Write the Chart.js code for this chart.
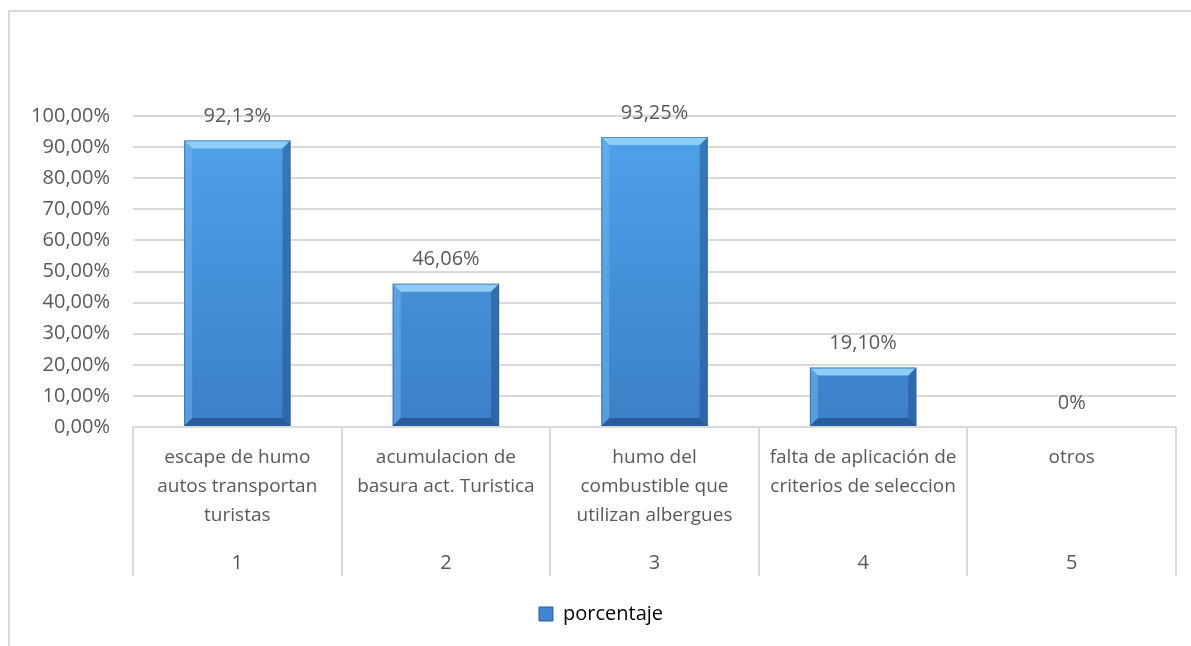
<!DOCTYPE html>
<html lang="es">
<head>
<meta charset="UTF-8">
<title>porcentaje</title>
<script src="https://cdn.jsdelivr.net/npm/chart.js"></script>
<style>
  html, body { margin: 0; padding: 0; background: #fff; }
  #wrap { width: 1191px; height: 646px; position: relative; }
</style>
</head>
<body>
<div id="wrap"><canvas id="grafico"></canvas></div>
<script>
// datos
const categorias = [
  ['escape de humo', 'autos transportan', 'turistas'],
  ['acumulacion de', 'basura act. Turistica'],
  ['humo del', 'combustible que', 'utilizan albergues'],
  ['falta de aplicación de', 'criterios de seleccion'],
  ['otros']
];
const numeros = ['1', '2', '3', '4', '5'];
const porcentaje = [92.13, 46.06, 93.25, 19.10, 0];
const yTicks = [0, 10, 20, 30, 40, 50, 60, 70, 80, 90, 100];

const gris = '#595959';
const fuente = "'Open Sans', sans-serif";

function fmt(v) {
  if (v === 0) return '0%';
  return v.toFixed(2).replace('.', ',') + '%';
}

// marco exterior (solo arriba e izquierda quedan visibles)
const marco = {
  id: 'marco',
  beforeDraw(chart) {
    const c = chart.ctx;
    c.save();
    c.strokeStyle = '#d9d9d9';
    c.lineWidth = 2;
    c.beginPath();
    c.moveTo(9, 646);
    c.lineTo(9, 11);
    c.lineTo(1191, 11);
    c.stroke();
    c.restore();
  }
};

// bisel de las barras, etiquetas y eje de dos niveles
const extras = {
  id: 'extras',
  afterDatasetsDraw(chart) {
    const c = chart.ctx;
    const meta = chart.getDatasetMeta(0);
    c.save();
    meta.data.forEach((bar, i) => {
      const p = bar.getProps(['x', 'y', 'base', 'width'], true);
      const l = p.x - p.width / 2, r = p.x + p.width / 2;
      const t = p.y, b = p.base;
      const h = b - t;
      if (h > 1) {
        const s = Math.min(8, h / 2);
        // arriba
        c.fillStyle = 'rgba(150,212,252,0.9)';
        c.beginPath();
        c.moveTo(l, t); c.lineTo(r, t); c.lineTo(r - s, t + s); c.lineTo(l + s, t + s);
        c.closePath(); c.fill();
        // izquierda
        c.fillStyle = 'rgba(110,180,240,0.55)';
        c.beginPath();
        c.moveTo(l, t); c.lineTo(l + s, t + s); c.lineTo(l + s, b - s); c.lineTo(l, b);
        c.closePath(); c.fill();
        // derecha
        c.fillStyle = 'rgba(30,80,140,0.5)';
        c.beginPath();
        c.moveTo(r, t); c.lineTo(r, b); c.lineTo(r - s, b - s); c.lineTo(r - s, t + s);
        c.closePath(); c.fill();
        // abajo
        c.fillStyle = 'rgba(25,70,125,0.6)';
        c.beginPath();
        c.moveTo(l, b); c.lineTo(r, b); c.lineTo(r - s, b - s); c.lineTo(l + s, b - s);
        c.closePath(); c.fill();
        c.strokeStyle = 'rgba(44,95,150,0.6)';
        c.lineWidth = 1;
        c.strokeRect(l + 0.5, t + 0.5, p.width - 1, h - 1);
      }
      // etiqueta de valor
      c.fillStyle = gris;
      c.font = '20px ' + fuente;
      c.textAlign = 'center';
      c.textBaseline = 'middle';
      c.fillText(fmt(porcentaje[i]), p.x, t - 24);
    });

    // separadores del eje de categorias
    const x = chart.scales.x;
    const area = chart.chartArea;
    const paso = (area.right - area.left) / categorias.length;
    c.strokeStyle = '#d9d9d9';
    c.lineWidth = 2;
    for (let i = 0; i <= categorias.length; i++) {
      const px = Math.round(area.left + i * paso);
      c.beginPath();
      c.moveTo(px, area.bottom);
      c.lineTo(px, area.bottom + 149);
      c.stroke();
    }
    // segundo nivel: numeros
    c.fillStyle = gris;
    c.font = '20px ' + fuente;
    c.textAlign = 'center';
    c.textBaseline = 'middle';
    numeros.forEach((n, i) => {
      c.fillText(n, x.getPixelForValue(i), area.bottom + 136);
    });
    c.restore();
  }
};

const ctx = document.getElementById('grafico').getContext('2d');
new Chart(ctx, {
  type: 'bar',
  data: {
    labels: categorias,
    datasets: [{
      label: 'porcentaje',
      data: porcentaje,
      backgroundColor: (context) => {
        const area = context.chart.chartArea;
        if (!area) return '#4a9de8';
        const g = context.chart.ctx.createLinearGradient(0, area.top, 0, area.bottom);
        g.addColorStop(0, '#4fa3ec');
        g.addColorStop(1, '#3b80c6');
        return g;
      },
      borderWidth: 0,
      barPercentage: 0.51,
      categoryPercentage: 1
    }]
  },
  options: {
    responsive: true,
    maintainAspectRatio: false,
    animation: false,
    layout: { padding: { top: 116, left: 26, right: 15, bottom: 12 } },
    plugins: {
      tooltip: { enabled: false },
      legend: {
        position: 'bottom',
        labels: {
          color: gris,
          font: { family: fuente, size: 20 },
          boxWidth: 14,
          boxHeight: 14,
          padding: 10,
          generateLabels: () => [{
            text: 'porcentaje',
            fillStyle: '#3f86cf',
            strokeStyle: '#2a5f9a',
            lineWidth: 1,
            datasetIndex: 0
          }]
        }
      }
    },
    scales: {
      x: {
        grid: { display: false },
        border: { display: false },
        ticks: {
          color: gris,
          font: { family: fuente, size: 19, lineHeight: 29 / 19 },
          padding: 8,
          maxRotation: 0,
          autoSkip: false
        },
        afterFit(scale) { scale.height = 167; }
      },
      y: {
        min: 0,
        max: 100,
        afterBuildTicks(scale) { scale.ticks = yTicks.map(v => ({ value: v })); },
        grid: { color: '#d9d9d9', lineWidth: 2, drawTicks: false },
        border: { display: false },
        ticks: {
          color: gris,
          font: { family: fuente, size: 20 },
          padding: 23,
          callback: (v) => v.toFixed(2).replace('.', ',') + '%'
        },
        afterFit(scale) { scale.width = 107; }
      }
    }
  },
  plugins: [marco, extras]
});
</script>
</body>
</html>
